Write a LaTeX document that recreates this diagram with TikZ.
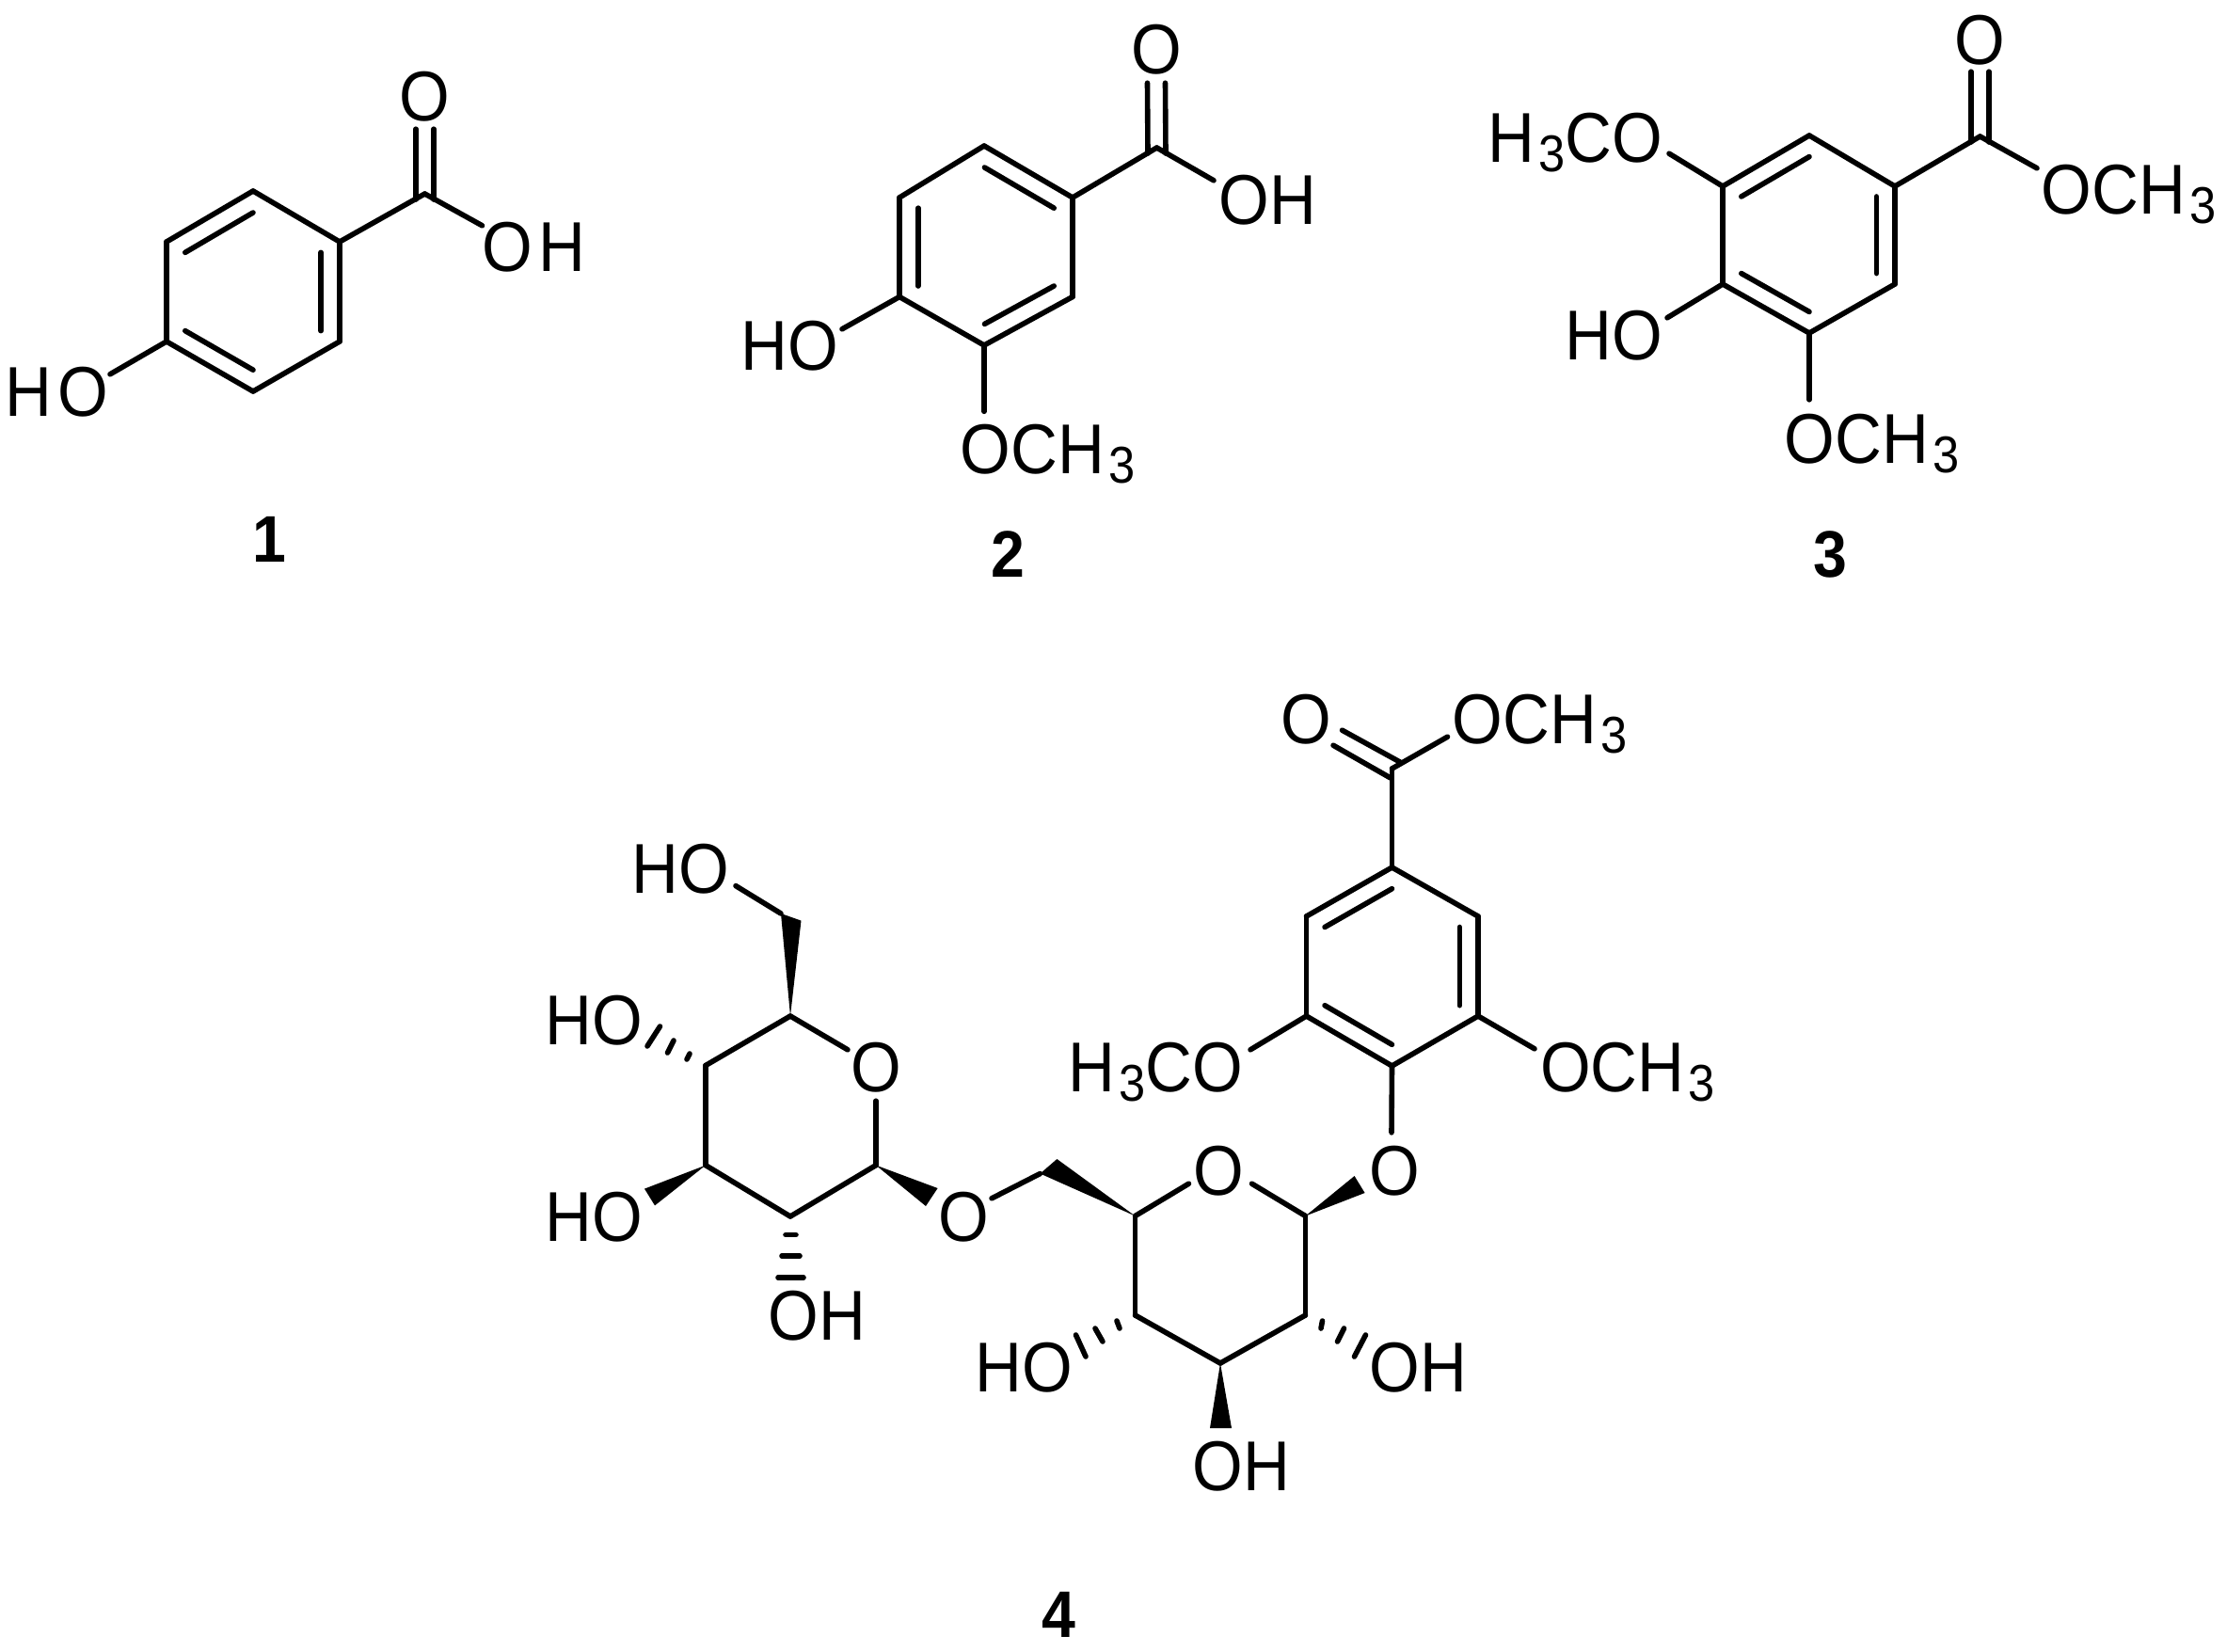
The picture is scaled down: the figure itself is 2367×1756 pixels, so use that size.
\documentclass[tikz,border=0pt]{standalone}
\usepackage{fontspec}
\setmainfont{Liberation Sans}
\newfontfamily\atomf[FakeStretch=0.92]{Liberation Sans}
\newfontfamily\atomw[FakeStretch=0.92,LetterSpace=8]{Liberation Sans}
\usetikzlibrary{calc}
\newcommand{\subthree}{\kern4pt\raisebox{-10pt}{\fontsize{55}{55}\selectfont 3}}

\begin{document}
\begin{tikzpicture}[x=1pt,y=-1pt,
    bond/.style={line width=5.6pt,line cap=round,line join=round},
    atom/.style={inner sep=0pt,text height=52pt,text depth=0pt,font=\atomf\fontsize{75}{75}\selectfont},
    atom l/.style={atom,anchor=base west},
    atom r/.style={atom,anchor=base east},
    atom c/.style={atom,anchor=base},
    atom wide/.style={font=\atomw\fontsize{75}{75}\selectfont},
    number/.style={inner sep=0pt,font=\atomf\fontsize{70}{70}\selectfont\bfseries}]

    \useasboundingbox (0,0) rectangle (2367,1756);

    % compound 1
    \coordinate (m1a) at (269,203);
    \coordinate (m1b) at (361,257);
    \coordinate (m1c) at (361,363);
    \coordinate (m1d) at (269,416);
    \coordinate (m1e) at (177,363);
    \coordinate (m1f) at (177,257);
    \coordinate (m1mid) at (269,310);
    \coordinate (m1co) at (451.5,206);

    \node[atom c] (m1o) at (451.5,128){O};
    \node[atom l,atom wide] (m1oh) at (512.5,288){OH};
    \node[atom r,atom wide] (m1ho) at (115.5,442){HO};
    \node[number] (m1num) at (286,573){1};

    \path[bond]
        (m1a) edge (m1b) (m1b) edge (m1c) (m1c) edge (m1d)
        (m1d) edge (m1e) (m1e) edge (m1f) (m1f) edge (m1a)
        (m1b) edge (m1co)
        (m1co) edge ([shift={(0,4)}]m1oh.north west)
        (m1e) edge ([shift={(1.5,8)}]m1ho.north east)
        ([shift={(-9.5,6)}]m1co) edge ([shift={(-9.5,9)}]m1o.south)
        ([shift={(9.5,6)}]m1co) edge ([shift={(9.5,9)}]m1o.south)
    ;
    \foreach \p/\q in {m1f/m1a,m1b/m1c,m1d/m1e}
        \draw[bond] ($(\p)!.215!(m1mid)$) -- ($(\q)!.215!(m1mid)$);

    % compound 2
    \coordinate (m2a) at (1046,155);
    \coordinate (m2b) at (1140,210);
    \coordinate (m2c) at (1140,315.5);
    \coordinate (m2d) at (1046,367);
    \coordinate (m2e) at (956,315.5);
    \coordinate (m2f) at (956,210);
    \coordinate (m2mid) at (1048,262);
    \coordinate (m2co) at (1229.5,157);

    \node[atom c] (m2o) at (1229,78){O};
    \node[atom l] (m2oh) at (1295.5,238){OH};
    \node[atom r] (m2ho) at (891.5,393){HO};
    \node[atom l] (m2och) at (1020.5,503){OCH\subthree};
    \node[number] (m2num) at (1071,589){2};

    \path[bond]
        (m2a) edge (m2b) (m2b) edge (m2c) (m2c) edge (m2d)
        (m2d) edge (m2e) (m2e) edge (m2f) (m2f) edge (m2a)
        (m2b) edge (m2co)
        (m2co) edge ([shift={(-5.5,6)}]m2oh.north west)
        (m2e) edge ([shift={(3.5,9)}]m2ho.north east)
        (m2d) edge ([shift={(25.5,-13.5)}]m2och.north west)
        ([shift={(-9.5,6)}]m2co) edge ([shift={(-9.5,10)}]m2o.south)
        ([shift={(9.5,6)}]m2co) edge ([shift={(9.5,10)}]m2o.south)
    ;
    \foreach \p/\q in {m2a/m2b,m2c/m2d,m2e/m2f}
        \draw[bond] ($(\p)!.215!(m2mid)$) -- ($(\q)!.215!(m2mid)$);

    % compound 3
    \coordinate (m3a) at (1923,144);
    \coordinate (m3b) at (2014,198);
    \coordinate (m3c) at (2014,302);
    \coordinate (m3d) at (1923,354);
    \coordinate (m3e) at (1831,302);
    \coordinate (m3f) at (1831,198);
    \coordinate (m3mid) at (1923,249);
    \coordinate (m3co) at (2104.5,145);

    \node[atom c] (m3o) at (2104.5,68){O};
    \node[atom l] (m3och) at (2169.5,227){OCH\subthree};
    \node[atom r] (m3hco) at (1767.5,172){H\subthree CO};
    \node[atom r] (m3ho) at (1767.5,382){HO};
    \node[atom l] (m3ocl) at (1896.5,492){OCH\subthree};
    \node[number] (m3num) at (1945,589){3};

    \path[bond]
        (m3a) edge (m3b) (m3b) edge (m3c) (m3c) edge (m3d)
        (m3d) edge (m3e) (m3e) edge (m3f) (m3f) edge (m3a)
        (m3b) edge (m3co)
        (m3co) edge ([shift={(-4.5,4)}]m3och.north west)
        (m3f) edge ([shift={(6.5,-9)}]m3hco.south east)
        (m3e) edge ([shift={(4.5,8)}]m3ho.north east)
        (m3d) edge ([shift={(26.5,-15)}]m3ocl.north west)
        ([shift={(-9.5,6)}]m3co) edge ([shift={(-9.5,8)}]m3o.south)
        ([shift={(9.5,6)}]m3co) edge ([shift={(9.5,8)}]m3o.south)
    ;
    \foreach \p/\q in {m3f/m3a,m3b/m3c,m3d/m3e}
        \draw[bond] ($(\p)!.215!(m3mid)$) -- ($(\q)!.215!(m3mid)$);

    % compound 4, left sugar
    \coordinate (l5) at (840,1080);
    \coordinate (l4) at (750,1132.5);
    \coordinate (l3) at (750,1238.6);
    \coordinate (l2) at (840,1293);
    \coordinate (l1) at (931,1238.6);
    \coordinate (l6a) at (830,971);
    \coordinate (l6b) at (851.5,978.6);

    \node[atom c] (lo) at (931,1160){O};
    \node[atom c] (link) at (1024,1319){O};
    \node[atom r] (lho6) at (775.5,949){HO};
    \node[atom r] (lho4) at (683.5,1110){HO};
    \node[atom r] (lho3) at (683.5,1319){HO};
    \node[atom l] (loh2) at (816.5,1424){OH};

    \path[bond]
        (l5) edge (l4) (l4) edge (l3) (l3) edge (l2) (l2) edge (l1)
        (l5) edge ([shift={(-3,8)}]lo.north west)
        (l1) edge ([shift={(0,10)}]lo.south)
        (l6a) edge ([shift={(6.5,-7.6)}]lho6.south east)
    ;
    \fill (l5) -- (l6a) -- (l6b) -- cycle;
    \fill (l3) -- (685,1263.6) -- (696,1281.4) -- cycle;
    \fill (l1) -- (996.6,1263) -- (984,1282) -- cycle;
    \foreach \ax/\ay/\bx/\by in {-17/-12.5/-20/-6.5,-34/-26.5/-40.5/-13.5,-48.5/-41.5/-62/-20.5}
        \draw[bond] ([shift={(\ax,\ay)}]l4) -- ([shift={(\bx,\by)}]l4);
    \foreach \ax/\bx/\ay in {-5/6/19.5,-9/10/42,-13/14/65}
        \draw[bond] ([shift={(\ax,\ay)}]l2) -- ([shift={(\bx,\ay)}]l2);

    % compound 4, right sugar
    \coordinate (r5) at (1206.5,1292.5);
    \coordinate (r4) at (1206.5,1398);
    \coordinate (r3) at (1297,1449);
    \coordinate (r2) at (1387.5,1398);
    \coordinate (r1) at (1387.5,1292.5);
    \coordinate (r6a) at (1105.5,1247.5);
    \coordinate (r6b) at (1123.4,1232);

    \node[atom c] (ro) at (1295,1270){O};
    \node[atom c] (glyo) at (1482,1270){O};
    \node[atom r] (rho4) at (1140.5,1479){HO};
    \node[atom l] (roh2) at (1455.5,1479){OH};
    \node[atom l] (roh3) at (1267.5,1584){OH};
    \node[number] (m4num) at (1125,1716){4};

    \path[bond]
        (r5) edge (r4) (r4) edge (r3) (r3) edge (r2) (r2) edge (r1)
        (r5) edge ([shift={(-4.5,-12)}]ro.south west)
        (r1) edge ([shift={(8.5,-12)}]ro.south east)
        (r6a) edge ([shift={(3,7)}]link.north east)
    ;
    \fill (r5) -- (r6a) -- (r6b) -- cycle;
    \fill (r1) -- (1439.6,1250) -- (1450.6,1268) -- cycle;
    \fill (r3) -- (1286,1518) -- (1309,1518) -- cycle;
    \foreach \ax/\ay/\bx/\by in {-19.5/6/-16.5/14,-42.5/14/-34.5/28,-63/21/-52.5/44}
        \draw[bond] ([shift={(\ax,\ay)}]r4) -- ([shift={(\bx,\by)}]r4);
    \foreach \ax/\ay/\bx/\by in {18/6/16.5/14,41/14/34/28,64/21/52/44}
        \draw[bond] ([shift={(\ax,\ay)}]r2) -- ([shift={(\bx,\by)}]r2);

    % compound 4, aromatic ring
    \coordinate (m4a) at (1479.5,922);
    \coordinate (m4b) at (1571,974);
    \coordinate (m4c) at (1571,1080);
    \coordinate (m4d) at (1479.5,1133);
    \coordinate (m4e) at (1388.5,1080);
    \coordinate (m4f) at (1388.5,974);
    \coordinate (m4mid) at (1479.5,1027.5);
    \coordinate (m4co) at (1479.5,817);

    \node[atom c] (m4o) at (1388.5,790){O};
    \node[atom l] (m4och) at (1543.5,790){OCH\subthree};
    \node[atom r] (m4hco) at (1321.5,1160){H\subthree CO};
    \node[atom l] (m4ocr) at (1637,1160){OCH\subthree};

    \path[bond]
        (m4a) edge (m4b) (m4b) edge (m4c) (m4c) edge (m4d)
        (m4d) edge (m4e) (m4e) edge (m4f) (m4f) edge (m4a)
        (m4a) edge (m4co)
        (m4co) edge ([shift={(-5,-7)}]m4och.south west)
        (m4e) edge ([shift={(7.5,8)}]m4hco.north east)
        (m4c) edge ([shift={(-6,7)}]m4ocr.north west)
        (m4d) edge ([shift={(-3,-14)}]glyo.north)
        ([shift={(-1.5,10)}]m4co) edge ([shift={(1.5,2)}]m4o.south east)
        ([shift={(8.5,-7)}]m4co) edge ([shift={(11,-14)}]m4o.south east)
    ;
    \foreach \p/\q in {m4f/m4a,m4b/m4c,m4d/m4e}
        \draw[bond] ($(\p)!.215!(m4mid)$) -- ($(\q)!.215!(m4mid)$);
\end{tikzpicture}
\end{document}
